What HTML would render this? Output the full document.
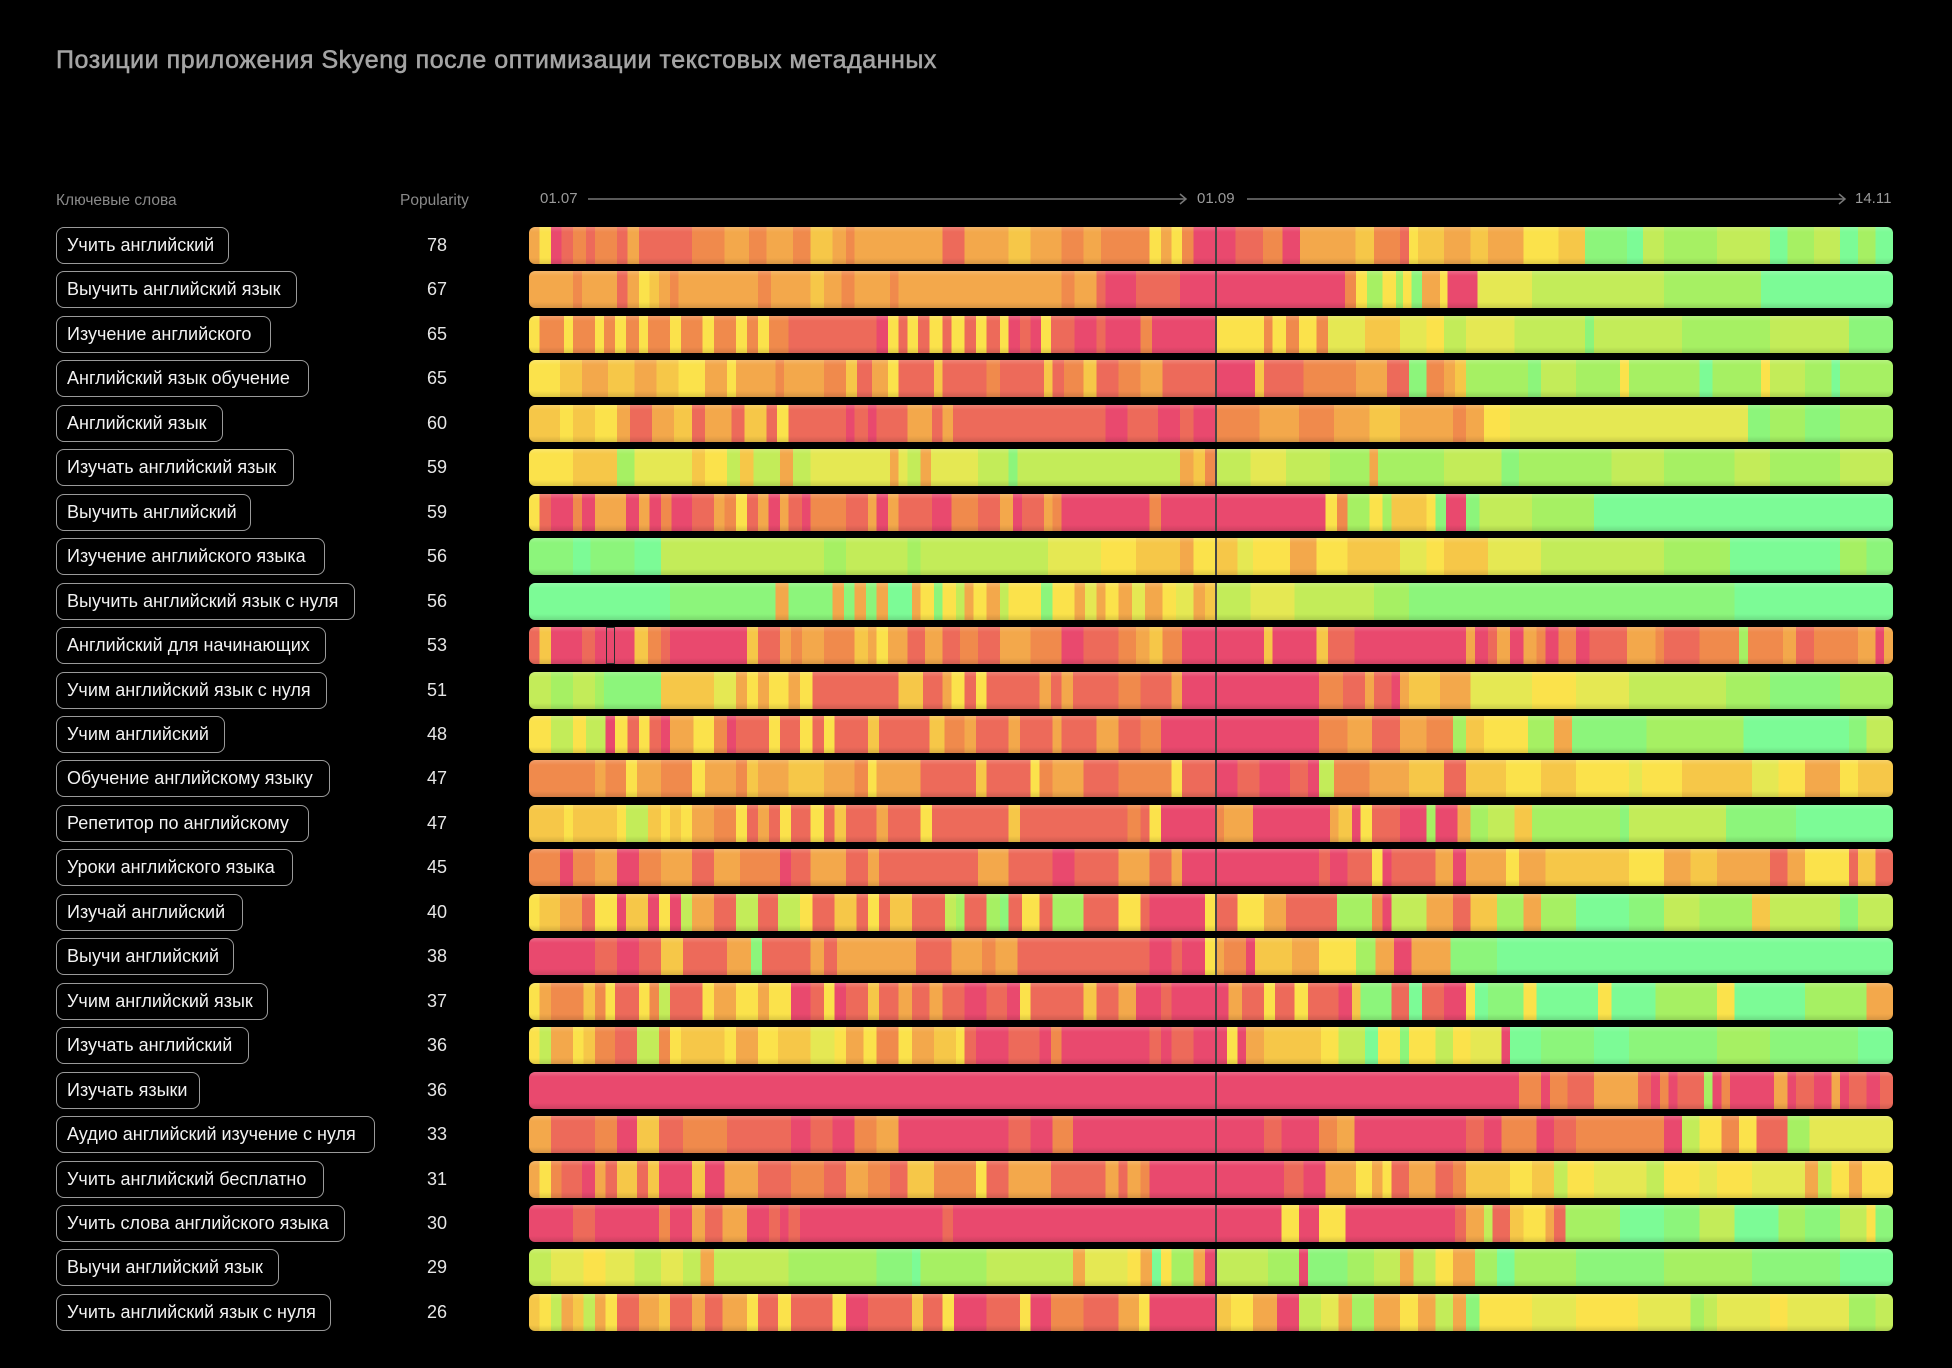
<!DOCTYPE html>
<html><head><meta charset="utf-8">
<style>
html,body{margin:0;padding:0;background:#000;}
body{width:1952px;height:1368px;position:relative;overflow:hidden;font-family:"Liberation Sans","DejaVu Sans",sans-serif;}
.t{position:absolute;left:56px;top:44px;font-size:25px;font-weight:normal;letter-spacing:0.55px;-webkit-text-stroke:0.55px #a4a4a4;color:#a4a4a4;white-space:nowrap;line-height:32px;}
.h{position:absolute;color:#8a8a8a;font-size:15.5px;line-height:20px;top:191px;white-space:nowrap;}
.ax{position:absolute;color:#9a9a9a;font-size:15px;line-height:20px;top:189px;white-space:nowrap;}
.pill{position:absolute;left:56px;height:37px;box-sizing:border-box;border:1.5px solid #9a9a9a;border-radius:8px;color:#f2f2f2;font-size:18px;line-height:34px;padding-left:10px;white-space:nowrap;overflow:hidden;}
.num{position:absolute;left:407px;width:60px;text-align:center;color:#e6e6e6;font-size:18px;line-height:37px;}
.bar{position:absolute;left:529px;width:1364px;height:37px;border-radius:6px;overflow:hidden;}
.bar .g{position:absolute;left:0;top:0;right:0;bottom:0;background:linear-gradient(to bottom,rgba(255,255,255,.18) 0,rgba(255,255,255,0) 5px,rgba(0,0,0,0) 31px,rgba(0,0,0,.12) 100%);}
.bar .d{position:absolute;left:686px;top:0;width:2px;height:37px;background:#454545;}
.bar .bx{position:absolute;left:77px;top:0;width:9px;height:37px;box-sizing:border-box;border:1.5px solid #2e2e2e;}
</style>
</head>
<body>
<div class="t">Позиции приложения Skyeng после оптимизации текстовых метаданных</div>
<div class="h" style="left:56px;">Ключевые слова</div>
<div class="h" style="left:400px;">Popularity</div>
<div class="ax" style="left:540px;">01.07</div>
<div class="ax" style="left:1197px;">01.09</div>
<div class="ax" style="left:1855px;">14.11</div>
<svg style="position:absolute;left:0;top:0" width="1952" height="260">
<g stroke="#777" stroke-width="1.5" fill="none">
<line x1="588" y1="199" x2="1186" y2="199"/>
<path d="M1180,194 L1186,199 L1180,204"/>
<line x1="1247" y1="199" x2="1845" y2="199"/>
<path d="M1839,194 L1845,199 L1839,204"/>
</g>
</svg>
<div id="wrap"></div>
<script>
(function(){
var labels=["Учить английский","Выучить английский язык","Изучение английского","Английский язык обучение","Английский язык","Изучать английский язык","Выучить английский","Изучение английского языка","Выучить английский язык с нуля","Английский для начинающих","Учим английский язык с нуля","Учим английский","Обучение английскому языку","Репетитор по английскому","Уроки английского языка","Изучай английский","Выучи английский","Учим английский язык","Изучать английский","Изучать языки","Аудио английский изучение с нуля","Учить английский бесплатно","Учить слова английского языка","Выучи английский язык","Учить английский язык с нуля"];
var nums=[78,67,65,65,60,59,59,56,56,53,51,48,47,47,45,40,38,37,36,36,33,31,30,29,26];
var widths=[173,241,215,253,167,238,195,269,299,270,271,169,274,253,237,187,178,212,193,144,319,268,289,223,275];
var C={R:'#e9496e',C:'#ed6a5a',O:'#f08a4c',A:'#f3a84b',Y:'#f6c748',L:'#fbe24b',E:'#e5e853',G:'#c3ec59',H:'#a6f063',N:'#8cf57b',M:'#7cfb96'};
var rows=[
"A22 L35 R47 C60 O75 C85 O110 C122 A135 C195 O232 A260 O280 A310 O330 Y355 A370 O380 A480 C505 A555 Y580 A615 O640 A660 O715 L728 A740 L752 O765 R813 C844 O866 R886 A949 Y970 O1000 C1010 L1020 Y1050 A1080 Y1100 A1140 L1180 Y1210 N1258 M1276 G1300 H1360 G1420 M1440 H1470 G1500 M1520 H1540 M1560",
"A60 O70 A110 C122 A135 L147 Y158 A170 O180 A270 O285 A330 Y345 A365 O380 A420 O430 A615 O630 A655 C665 R700 C750 R937 O950 L962 H980 L995 H1003 L1013 N1025 A1045 L1054 R1088 E1150 G1300 H1410 M1560",
"L22 O50 L60 O85 L95 O108 L120 O135 L145 O170 L183 O207 L220 O245 L258 O270 L283 O305 C405 R418 L430 C440 L452 C465 L480 C490 L505 C518 L530 C545 L555 R568 C580 R592 L603 C630 R655 C665 R705 O718 R790 L845 O855 L870 O885 L905 O918 E960 Y1000 E1030 L1050 G1075 E1130 G1210 N1220 G1320 H1420 G1510 N1560",
"L45 Y70 A100 Y130 A155 Y180 L210 A235 L245 A290 O300 A345 O370 Y383 C400 A418 L430 C470 Y480 C530 O545 C595 Y605 C618 O640 Y655 C680 O705 A730 C790 R835 Y845 C890 O950 A985 C1010 N1030 O1050 A1062 Y1075 H1145 N1160 G1200 H1250 L1260 H1340 M1355 H1410 L1420 G1460 H1490 M1500 H1560",
"Y45 L60 Y85 L110 A125 C150 A175 Y195 C210 A240 C255 Y280 C292 L305 C370 R380 C395 R405 C440 A468 C480 A492 C665 R690 C725 R750 C765 R790 O840 A885 O925 A965 Y1000 A1060 O1075 A1095 L1125 E1395 N1420 H1460 N1500 H1560",
"L60 Y110 H130 E195 Y210 L235 G250 Y265 G295 A310 G330 E420 A430 E440 G455 A467 E520 G555 N565 G750 A765 Y778 O790 G830 E870 G920 H965 A975 H1050 G1115 N1135 H1240 G1300 H1380 G1420 H1500 G1560",
"L22 C35 R60 O70 R85 A120 R135 A147 R160 O172 R195 C220 A232 O245 L258 C270 A282 R295 A305 C320 R330 O370 C395 A405 R418 A430 C468 R490 O520 C545 A560 R570 C595 A605 O615 R715 O728 R915 L928 O940 H965 L980 H990 Y1030 L1040 N1052 R1075 N1090 G1150 H1220 M1560",
"N60 M80 N130 M160 G345 H370 G440 H455 G600 E660 L700 Y750 A765 L790 Y815 E833 L875 A905 L940 Y1000 E1030 L1050 Y1100 E1160 G1300 H1375 M1500 H1530 N1560",
"M170 N290 A305 N355 A368 N380 A393 N405 A418 M445 A455 L470 N480 L495 G505 A515 L530 A545 G555 L592 N605 L630 A642 E655 A665 L680 A695 E710 A730 L745 E765 A778 Y790 G830 E880 G970 H1010 N1380 M1560",
"C22 Y35 R70 C85 R130 Y145 O160 C170 R258 Y270 C295 A308 O320 A345 O380 Y395 A405 L418 A440 C460 A480 C500 O520 C545 A580 O615 R640 C680 O700 A715 Y730 O752 R845 Y855 R905 Y918 C948 R1075 A1085 R1100 C1110 A1125 R1140 A1155 O1165 R1180 O1200 R1215 C1258 A1290 O1300 C1340 O1385 H1395 O1435 A1450 C1470 O1520 A1540 R1550 A1560",
"G35 H60 G85 H95 N160 Y220 E245 A258 L270 A283 L305 A318 L332 C430 Y458 C480 A490 L505 C518 L530 C590 A603 C615 A628 C680 O705 C740 A752 R908 O935 C960 A970 C990 R1000 A1010 Y1045 A1080 E1150 L1200 E1260 G1370 H1420 N1500 H1560",
"L35 G60 L75 G97 R108 L122 C135 L147 C160 R170 A197 L220 O235 R245 C283 L295 C318 L332 C345 L357 C395 Y408 C465 Y482 O505 A518 C555 A568 C605 A615 C655 A680 C705 O728 R908 O940 A968 C1000 A1030 O1060 H1075 Y1095 L1145 H1175 A1195 N1280 H1390 M1510 N1530 G1560",
"O85 A97 O120 L133 A160 O195 L210 A245 O258 Y270 A305 Y345 A380 O395 L405 A455 C518 Y530 C580 L590 O605 A640 C680 O740 L752 C790 R815 C840 R875 C895 R908 G925 O965 A1010 Y1050 C1075 Y1120 L1160 Y1200 L1260 E1275 L1320 Y1400 E1430 L1460 A1500 L1520 Y1560",
"Y50 L60 Y110 L120 G145 Y160 L170 Y183 L195 A220 O245 L258 C270 A283 C295 L308 C330 L345 C357 Y370 C405 A418 C455 L468 C555 Y568 C690 O705 C715 L728 R790 O800 A833 R920 A930 Y945 R955 L968 C1000 R1030 H1040 R1065 A1080 H1100 G1130 Y1150 H1250 N1260 G1370 N1450 M1560",
"O45 R60 O85 A110 R135 O160 A195 C220 A250 O295 R308 C330 A370 C395 A408 C520 A555 C605 R630 C680 A715 C740 A752 R908 C920 R940 C968 L980 R990 C1040 A1060 R1075 A1120 L1135 A1165 Y1260 L1300 A1330 Y1360 A1420 C1440 A1460 L1510 C1520 Y1540 C1560",
"L22 Y45 A70 C85 L110 R120 Y145 R158 L170 R183 G195 A220 C245 G270 C293 G318 L332 C357 Y382 C395 L408 C420 Y445 C483 G495 H505 C530 H545 N555 C570 L590 C605 H640 C680 L705 C715 R778 L790 C815 L845 A870 C928 H968 O980 R990 G1030 A1060 C1080 Y1110 H1140 A1160 H1200 M1260 N1300 G1340 H1400 Y1420 G1500 N1520 G1560",
"R85 C110 R135 C160 Y185 C235 A262 N275 C330 A345 C360 A450 C490 A525 O540 A565 C715 R740 C752 R778 L790 A800 O825 R835 Y877 A908 L950 H972 A993 R1013 A1057 N1110 M1560",
"L22 A35 O72 Y85 O97 L108 C135 L147 O158 G170 C207 L220 A245 L270 A283 L308 R330 C345 L357 R370 C395 Y408 C430 A445 C465 A480 C505 R530 C553 R568 L580 C640 Y655 C680 A700 R728 C740 R805 A820 C845 L858 C880 L895 C930 R945 Y955 N990 C1010 M1025 C1050 R1075 L1085 M1100 N1140 L1155 M1225 L1240 M1290 H1360 L1380 M1460 H1530 A1560",
"L22 G35 A60 L72 Y85 O108 C133 G158 O170 L183 Y232 L245 A270 L293 Y330 E357 L370 A390 L405 O430 L445 A470 Y495 L505 C518 R555 C590 R603 O615 R715 C728 R740 C765 R803 L815 R825 A845 Y910 L930 G960 M975 L1000 N1010 L1040 G1060 L1080 E1115 R1125 M1160 N1220 M1260 N1360 H1420 N1520 M1560",
"R1135 O1160 R1170 O1190 C1220 A1270 C1285 R1295 O1305 R1315 C1345 H1355 R1365 O1375 R1425 A1440 R1450 C1470 R1490 A1500 R1510 C1530 R1545 C1560",
"A35 C85 O110 R133 Y158 C185 O235 C308 R330 C355 R380 O405 A430 R555 C580 R605 O628 R845 C865 R908 O928 A948 R1075 C1095 R1115 O1155 R1175 C1200 O1300 R1320 G1340 L1365 O1385 L1405 C1440 H1465 E1560",
"A22 L35 O47 C70 R85 A97 C110 Y133 C145 Y158 R195 Y210 R232 A270 C308 O345 C370 A395 O420 C440 Y470 O518 L530 C555 A603 C665 A680 C690 A705 O715 R868 C890 R915 A950 L968 A980 L990 C1010 A1040 C1060 O1075 Y1125 L1150 Y1175 G1190 L1220 E1280 G1300 L1340 E1360 L1400 E1460 A1475 G1490 L1510 A1525 L1560",
"R60 C85 R158 O170 R195 A210 C230 A258 R283 C295 R305 C318 R480 C492 R865 L885 R908 L938 R1062 C1075 A1095 G1105 C1125 Y1140 L1165 A1175 C1188 H1250 M1300 N1340 G1380 M1430 H1460 N1500 G1530 L1540 N1560",
"G35 E72 L97 E130 G160 E185 G205 A220 G305 H405 N445 M455 H530 G628 A642 E690 L705 A718 M728 L740 H765 A778 R790 G850 H885 R895 N940 H970 G1000 A1015 G1040 L1060 A1085 H1110 M1130 H1200 N1300 H1400 N1500 M1560",
"Y22 L35 G47 A60 Y72 G85 A97 L110 C135 A158 Y170 C195 A210 C230 A258 L270 C293 L308 C355 L370 R395 C445 Y458 C480 L493 R530 C568 L580 R603 O640 C680 A703 L715 R790 Y808 L833 A860 R885 G910 E930 A945 H970 A1000 L1020 A1040 G1060 A1075 N1090 L1150 E1200 L1270 E1330 H1345 G1360 E1420 L1440 E1510 H1540 G1560"
];
var wrapEl=document.getElementById('wrap');
var out='';
for(var i=0;i<25;i++){
  var ty=(227+i*44.45).toFixed(1);
  out+='<div class="pill" style="top:'+ty+'px;width:'+widths[i]+'px">'+labels[i]+'</div>';
  out+='<div class="num" style="top:'+ty+'px">'+nums[i]+'</div>';
  var toks=rows[i].split(' ');
  var prev=10, stops=[];
  for(var k=0;k<toks.length;k++){
    var c=toks[k].charAt(0), e=parseFloat(toks[k].slice(1));
    var p0=((prev-10)/1550*100).toFixed(3), p1=((e-10)/1550*100).toFixed(3);
    stops.push(C[c]+' '+p0+'%,'+C[c]+' '+p1+'%');
    prev=e;
  }
  var extra=(i===9)?'<div class="bx"></div>':'';
  out+='<div class="bar" style="top:'+ty+'px;background:linear-gradient(to right,'+stops.join(',')+')"><div class="g"></div>'+extra+'<div class="d"></div></div>';
}
wrapEl.innerHTML=out;
})();
</script>
</body></html>
